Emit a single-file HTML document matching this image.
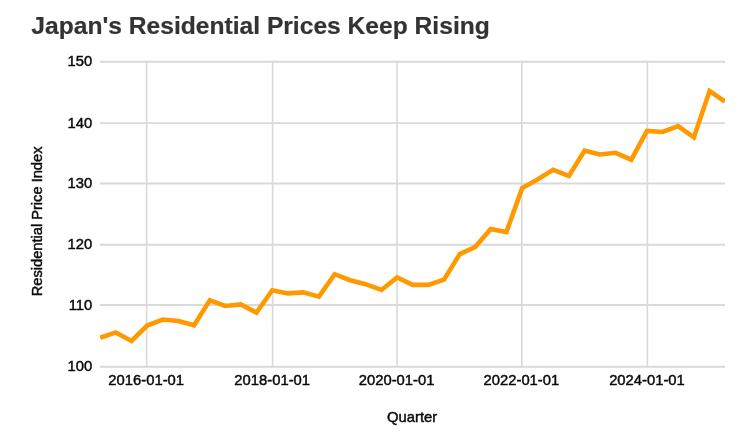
<!DOCTYPE html>
<html><head><meta charset="utf-8"><title>Japan's Residential Prices Keep Rising</title>
<style>
html,body{margin:0;padding:0;background:#fff;}
svg{display:block;}
text{font-family:"Liberation Sans",Arial,sans-serif;}
.s text{font-size:14.8px;fill:#0a0a0a;stroke:#0a0a0a;stroke-width:0.45px;}
</style></head><body>
<svg width="753" height="445" viewBox="0 0 753 445">
<rect width="753" height="445" fill="#fff"/>
<text x="31.3" y="34.2" font-size="23.6" font-weight="bold" fill="#333" stroke="#333" stroke-width="0.2" textLength="458.5" lengthAdjust="spacingAndGlyphs">Japan's Residential Prices Keep Rising</text>
<g stroke="#d9d9d9" stroke-width="1.9" fill="none">
<line x1="100" x2="725" y1="61.7" y2="61.7"/><line x1="100" x2="725" y1="123.1" y2="123.1"/><line x1="100" x2="725" y1="183.5" y2="183.5"/><line x1="100" x2="725" y1="244.8" y2="244.8"/><line x1="100" x2="725" y1="305.0" y2="305.0"/><line x1="100" x2="725" y1="366.7" y2="366.7"/>
<line x1="146.6" x2="146.6" y1="60.8" y2="367.6" stroke-width="1.6"/><line x1="272.6" x2="272.6" y1="60.8" y2="367.6" stroke-width="1.6"/><line x1="397.0" x2="397.0" y1="60.8" y2="367.6" stroke-width="1.6"/><line x1="521.8" x2="521.8" y1="60.8" y2="367.6" stroke-width="1.6"/><line x1="647.4" x2="647.4" y1="60.8" y2="367.6" stroke-width="1.6"/>
</g>
<clipPath id="c"><rect x="99.8" y="55" width="625.2" height="315"/></clipPath>
<path clip-path="url(#c)" d="M100.2,337.7 L115.76,332.4 L131.5,340.9 L147.24,325.5 L162.8,319.5 L178.36,321 L194.1,325.3 L209.84,300.3 L225.23,306 L240.79,304.4 L256.53,312.6 L272.26,290.2 L287.66,293.4 L303.22,292.4 L318.96,296.6 L334.69,274.2 L350.09,280.2 L365.65,284.2 L381.39,290.0 L397.12,277.4 L412.69,284.9 L428.25,284.9 L443.99,279.7 L459.72,254.1 L475.11,247 L490.68,228.9 L506.41,232.0 L522.15,188.1 L537.54,179.5 L553.11,169.9 L568.84,175.9 L584.58,150.7 L599.97,154.5 L615.54,152.8 L631.27,159.7 L647.01,131 L662.57,132 L678.14,126.1 L693.87,137.3 L709.61,91.0 L725.0,101.5" fill="none" stroke="#ff9900" stroke-width="4.6" stroke-linejoin="miter"/>
<g class="s" text-anchor="end">
<text x="92.3" y="66.3">150</text><text x="92.3" y="127.7">140</text><text x="92.3" y="188.1">130</text><text x="92.3" y="249.4">120</text><text x="92.3" y="309.6">110</text><text x="92.3" y="371.3">100</text>
</g>
<g class="s" text-anchor="middle">
<text x="146.2" y="385.4">2016-01-01</text><text x="272.2" y="385.4">2018-01-01</text><text x="396.6" y="385.4">2020-01-01</text><text x="521.4" y="385.4">2022-01-01</text><text x="647.0" y="385.4">2024-01-01</text>
<text x="412.1" y="422.4">Quarter</text>
<text transform="translate(42.3,221.4) rotate(-90)" style="font-size:14.65px">Residential Price Index</text>
</g>
</svg>
</body></html>
